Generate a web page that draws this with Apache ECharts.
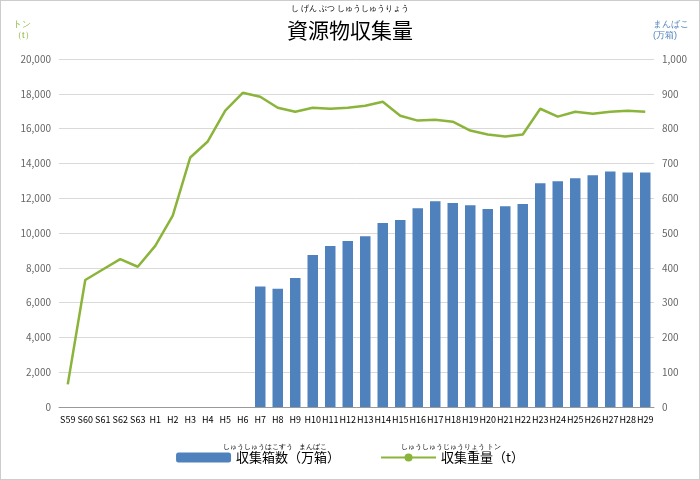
<!DOCTYPE html><html><head><meta charset="utf-8">
<script src="https://cdn.jsdelivr.net/npm/echarts@6/dist/echarts.min.js"></script>
<style>body{margin:0}#c{width:698px;height:478px;border:1px solid #ccc}</style></head><body><div id="c"></div>
<script>
const categories=['S59','S60','S61','S62','S63','H1','H2','H3','H4','H5','H6','H7','H8','H9','H10','H11','H12','H13','H14','H15','H16','H17','H18','H19','H20','H21','H22','H23','H24','H25','H26','H27','H28','H29'];
const boxes=[null,null,null,null,null,null,null,null,null,null,null,346,340,371,437,463,477,491,529,537,571,591,586,580,569,577,583,643,649,657,666,677,674,674];
const tons=[1300,7300,7900,8500,8060,9260,11000,14340,15260,17030,18060,17830,17200,16970,17200,17140,17200,17310,17540,16740,16460,16510,16400,15890,15660,15540,15660,17140,16690,16970,16860,16970,17030,16970];
const c=echarts.init(document.getElementById('c'));
const F='"Noto Sans CJK JP",sans-serif';
c.setOption({
 textStyle:{fontFamily:F},
 title:{text:'資源物収集量',left:'center',top:14,textStyle:{fontSize:21,fontWeight:'normal',color:'#000',fontFamily:F}},
 graphic:[
  {type:'text',left:'center',top:4,style:{text:'し げん ぶつ しゅうしゅうりょう',fontSize:8,fill:'#000'}},
  {type:'text',left:12,top:18,style:{text:'トン\n（t）',fontSize:9,fill:'#8bb43a',align:'center',lineHeight:11}},
  {type:'text',right:10,top:18,style:{text:'まんばこ\n(万箱)',fontSize:9,fill:'#4f81bd',align:'center',lineHeight:11}},
  {type:'text',left:222,top:443,style:{text:'しゅうしゅうはこすう   まんばこ',fontSize:7,fill:'#000'}},
  {type:'text',left:400,top:443,style:{text:'しゅうしゅうじゅうりょう トン',fontSize:7,fill:'#000'}}
 ],
 grid:{left:58,right:45,top:58,bottom:72},
 legend:{bottom:10,itemGap:40,textStyle:{fontSize:13,color:'#000'},itemWidth:55,itemHeight:10,data:['収集箱数（万箱）','収集重量（t）']},
 xAxis:{type:'category',data:categories,axisTick:{show:false},axisLine:{lineStyle:{color:'#999'}},axisLabel:{fontSize:9,color:'#000',interval:0}},
 yAxis:[
  {type:'value',min:0,max:20000,interval:2000,axisLabel:{color:'#666',fontSize:10,formatter:v=>v.toLocaleString('en-US')},splitLine:{lineStyle:{color:'#d9d9d9'}}},
  {type:'value',min:0,max:1000,interval:100,axisLabel:{color:'#666',fontSize:10,formatter:v=>v.toLocaleString('en-US')},splitLine:{show:false}}
 ],
 series:[
  {name:'収集箱数（万箱）',type:'bar',yAxisIndex:1,data:boxes,barWidth:'60%',itemStyle:{color:'#4f81bd'}},
  {name:'収集重量（t）',type:'line',data:tons,symbol:'none',lineStyle:{color:'#8bb43a',width:2.5},itemStyle:{color:'#8bb43a'}}
 ]
});
</script></body></html>
